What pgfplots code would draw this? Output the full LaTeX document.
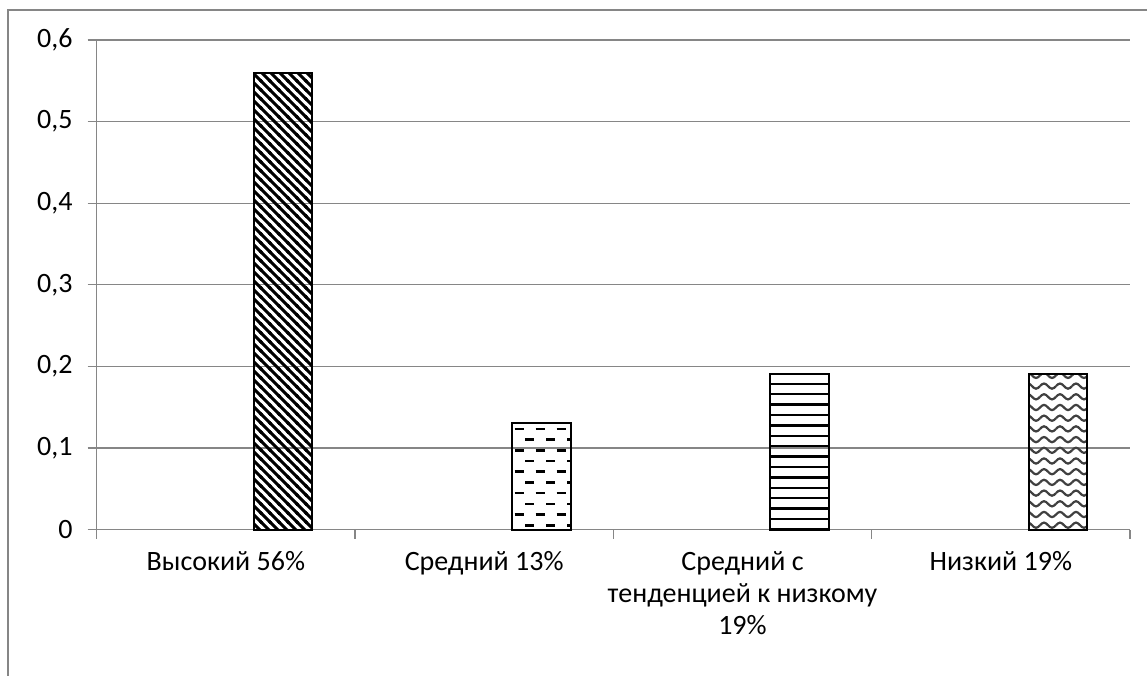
\documentclass[border=0pt]{standalone}
\usepackage{pgfplots}
\pgfplotsset{compat=1.18}
\usepackage{fontspec}
\setmainfont{Carlito}
\usetikzlibrary{patterns}
\definecolor{gridgray}{RGB}{134,134,134}

\pgfdeclarepatternformonly{diagstripes}{\pgfqpoint{-1pt}{-1pt}}{\pgfqpoint{10pt}{10pt}}{\pgfqpoint{9pt}{9pt}}{%
  \pgfsetlinewidth{3pt}%
  \pgfpathmoveto{\pgfqpoint{-1pt}{10pt}}\pgfpathlineto{\pgfqpoint{10pt}{-1pt}}%
  \pgfpathmoveto{\pgfqpoint{-1pt}{1pt}}\pgfpathlineto{\pgfqpoint{1pt}{-1pt}}%
  \pgfpathmoveto{\pgfqpoint{8pt}{10pt}}\pgfpathlineto{\pgfqpoint{10pt}{8pt}}%
  \pgfusepath{stroke}}

\pgfdeclarepatternformonly{dashrows}{\pgfqpoint{-1pt}{-2pt}}{\pgfqpoint{22pt}{22pt}}{\pgfqpoint{21pt}{21.4pt}}{%
  \pgfsetlinewidth{2.6pt}%
  \pgfpathmoveto{\pgfqpoint{0pt}{0pt}}\pgfpathlineto{\pgfqpoint{9pt}{0pt}}%
  \pgfpathmoveto{\pgfqpoint{10.5pt}{10.7pt}}\pgfpathlineto{\pgfqpoint{19.5pt}{10.7pt}}%
  \pgfusepath{stroke}}

\pgfdeclarepatternformonly{hlinesthick}{\pgfqpoint{-1pt}{-2pt}}{\pgfqpoint{11pt}{2pt}}{\pgfqpoint{10pt}{10.4pt}}{%
  \pgfsetlinewidth{2.4pt}%
  \pgfpathmoveto{\pgfqpoint{-1pt}{0pt}}\pgfpathlineto{\pgfqpoint{11pt}{0pt}}%
  \pgfusepath{stroke}}

\pgfdeclarepatternformonly{waves}{\pgfqpoint{-1pt}{-4pt}}{\pgfqpoint{17pt}{4pt}}{\pgfqpoint{16pt}{10.7pt}}{%
  \pgfsetlinewidth{2.2pt}%
  \pgfpathmoveto{\pgfqpoint{0pt}{0pt}}%
  \pgfpathsine{\pgfqpoint{4pt}{2.6pt}}%
  \pgfpathcosine{\pgfqpoint{4pt}{-2.6pt}}%
  \pgfpathsine{\pgfqpoint{4pt}{-2.6pt}}%
  \pgfpathcosine{\pgfqpoint{4pt}{2.6pt}}%
  \pgfusepath{stroke}}

\begin{document}
\fontsize{28}{32}\selectfont
\begin{tikzpicture}[x=1pt,y=1pt]
\useasboundingbox (0,0) rectangle (1147,675);
\fill[white] (0,0) rectangle (1147,675);
\draw[gridgray, line width=1.3pt] (8,-5) -- (8,665) -- (1155,665);
\begin{axis}[
  at={(96.7pt,145.5pt)}, anchor=south west,
  scale only axis, width=1033.3pt, height=489.5pt,
  xmin=-0.5, xmax=3.5, ymin=0, ymax=0.6,
  axis x line*=bottom, axis y line*=left,
  axis line style={draw=gridgray, line width=1.3pt, -},
  ymajorgrids, grid style={draw=gridgray, line width=1.3pt},
  ytick={0,0.1,0.2,0.3,0.4,0.5,0.6},
  /pgf/number format/fixed, /pgf/number format/precision=1,
  /pgf/number format/use comma, /pgf/number format/assume math mode=true,
  y tick label style={anchor=east, inner sep=0pt, xshift=-15pt},
  tick style={draw=gridgray, line width=1.3pt},
  tick align=outside, major tick length=9pt,
  xtick={-0.5,0.5,1.5,2.5,3.5}, xticklabels={},
  extra x ticks={0,1,2,3},
  extra x tick labels={{Высокий 56\%},{Средний 13\%},{Средний с\\тенденцией к низкому\\19\%},{Низкий 19\%}},
  extra x tick style={major tick length=0pt},
  x tick label style={align=center, anchor=north, inner sep=0pt, yshift=-22pt},
  tick label style={font=\fontsize{28}{32}\selectfont},
  clip=false,
]
\addplot[ybar, bar shift=0pt, bar width=0.2265, draw=black, line width=2pt, pattern=diagstripes, pattern color=black] coordinates {(0.2215,0.56)};
\addplot[ybar, bar shift=0pt, bar width=0.2265, draw=black, line width=2pt, pattern=dashrows, pattern color=black] coordinates {(1.2215,0.13)};
\addplot[ybar, bar shift=0pt, bar width=0.2265, draw=black, line width=2pt, pattern=hlinesthick, pattern color=black] coordinates {(2.2215,0.19)};
\addplot[ybar, bar shift=0pt, bar width=0.2265, draw=black, line width=2pt, pattern=waves, pattern color=black!75] coordinates {(3.2215,0.19)};
\end{axis}
\end{tikzpicture}
\end{document}
